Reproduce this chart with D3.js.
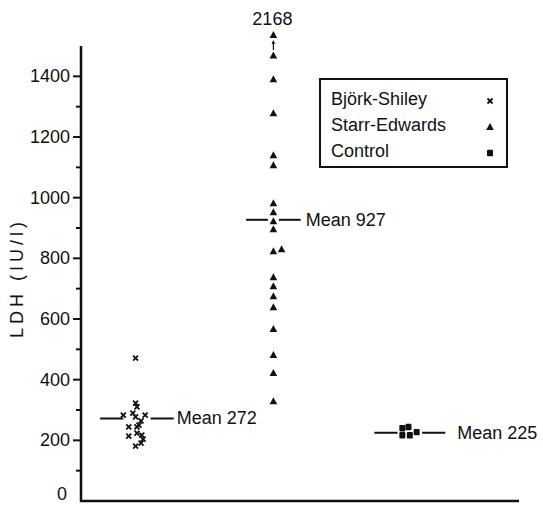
<!DOCTYPE html>
<html>
<head>
<meta charset="utf-8">
<script src="https://cdn.jsdelivr.net/npm/d3@7"></script>
<style>
  body { margin: 0; background: #fff; }
  text { font-family: "Liberation Sans", Arial, sans-serif; fill: #111; }
</style>
</head>
<body>
<div id="chart"></div>
<script>
// groups on the x axis (1, 2, 3)
const categories = ['Björk-Shiley', 'Starr-Edwards', 'Control'];
const symbols = ['cross', 'triangle', 'square'];

// LDH values (IU/l), with horizontal scatter in group units
const bjorkValues = [471, 323, 310, 283, 290, 277, 283, 264, 244, 244, 250, 214, 224, 217, 204, 181, 191];
const bjorkJitter = [-0.01, -0.01, 0, -0.10, -0.03, -0.01, 0.06, 0.03, -0.06, 0, 0.015, -0.06, 0, 0.035, 0.045, -0.01, 0.03];

const starrValues = [2168, 1469, 1390, 1278, 1140, 1107, 982, 952, 922, 896, 823, 830, 738, 708, 675, 639, 567, 481, 422, 329];
const starrJitter = [0, 0, 0, 0, 0, 0, 0, 0, 0, 0, 0, 0.06, 0, 0, 0, 0, 0, 0, 0, 0];

const controlValues = [240, 217, 244, 217, 227];
const controlJitter = [-0.055, -0.055, -0.01, 0, 0.05];

const means = [272, 927, 225];
const yTicks = [0, 200, 400, 600, 800, 1000, 1200, 1400];
const yMinorTicks = [100, 300, 500, 700, 900, 1100, 1300];
const yMax = 1500;

const width = 543, height = 507;

const svg = d3.select('#chart').append('svg')
  .attr('width', width)
  .attr('height', height);

const x = d3.scaleLinear().domain([0.59, 3.8]).range([81, 519]);
const y = d3.scaleLinear().domain([0, yMax]).range([501, 46]);
const unit = x(2) - x(1);

// mean line layout per group: half width, gap round the points, label offset
const meanLayout = [
  { half: 0.27, gap: 0.10, dx: 3 },
  { half: 0.20, gap: 0.04, dx: 5 },
  { half: 0.26, gap: 0.09, dx: 12 }
];

// axes
svg.append('line')
  .attr('x1', x.range()[0]).attr('x2', x.range()[0])
  .attr('y1', y(yMax)).attr('y2', y(0) + 1)
  .attr('stroke', '#111').attr('stroke-width', 2.5);
svg.append('line')
  .attr('x1', x.range()[0] - 1).attr('x2', x.range()[1])
  .attr('y1', y(0)).attr('y2', y(0))
  .attr('stroke', '#111').attr('stroke-width', 2.5);

svg.selectAll('.major')
  .data(yTicks.filter(d => d > 0))
  .enter().append('line')
  .attr('x1', x.range()[0] - 8).attr('x2', x.range()[0])
  .attr('y1', d => y(d)).attr('y2', d => y(d))
  .attr('stroke', '#111').attr('stroke-width', 2);

svg.selectAll('.minor')
  .data(yMinorTicks)
  .enter().append('line')
  .attr('x1', x.range()[0] - 5).attr('x2', x.range()[0])
  .attr('y1', d => y(d)).attr('y2', d => y(d))
  .attr('stroke', '#111').attr('stroke-width', 2);

svg.selectAll('.ytick')
  .data(yTicks)
  .enter().append('text')
  .attr('x', d => d === 0 ? 67 : 70)
  .attr('y', d => d === 0 ? y(d) - 1 : y(d) + 6)
  .attr('text-anchor', 'end')
  .attr('font-size', 18)
  .text(d => d);

svg.append('text')
  .attr('transform', `translate(23,${y(735)}) rotate(-90)`)
  .attr('text-anchor', 'middle')
  .attr('font-size', 18)
  .attr('letter-spacing', 4)
  .text('LDH  (IU/l)');

// markers
function drawSymbol(g, type, cx, cy) {
  if (type === 'cross') {
    const r = 2.5;
    g.append('path')
      .attr('d', `M${cx - r},${cy - r}L${cx + r},${cy + r}M${cx - r},${cy + r}L${cx + r},${cy - r}`)
      .attr('stroke', '#111').attr('stroke-width', 1.8).attr('fill', 'none');
  } else if (type === 'triangle') {
    g.append('path')
      .attr('d', `M${cx},${cy - 4}L${cx + 3.8},${cy + 3}L${cx - 3.8},${cy + 3}Z`)
      .attr('fill', '#111');
  } else {
    g.append('rect')
      .attr('x', cx - 3).attr('y', cy - 3.2)
      .attr('width', 6).attr('height', 6.4)
      .attr('rx', 1)
      .attr('fill', '#111');
  }
}

const groups = [
  { values: bjorkValues, jitter: bjorkJitter },
  { values: starrValues, jitter: starrJitter },
  { values: controlValues, jitter: controlJitter }
];

const plotY = v => v > yMax ? y(yMax) - 11 : y(v);

groups.forEach((grp, i) => {
  const cx = x(i + 1);
  const lay = meanLayout[i];
  const my = y(means[i]);
  const g = svg.append('g');

  // mean line, broken round the points
  g.append('line')
    .attr('x1', cx - lay.half * unit).attr('x2', cx - lay.gap * unit)
    .attr('y1', my).attr('y2', my)
    .attr('stroke', '#111').attr('stroke-width', 2);
  g.append('line')
    .attr('x1', cx + lay.gap * unit).attr('x2', cx + lay.half * unit)
    .attr('y1', my).attr('y2', my)
    .attr('stroke', '#111').attr('stroke-width', 2);
  g.append('text')
    .attr('x', cx + lay.half * unit + lay.dx)
    .attr('y', my + 6)
    .attr('font-size', 18)
    .text('Mean ' + means[i]);

  grp.values.forEach((v, j) => {
    drawSymbol(g, symbols[i], cx + grp.jitter[j] * unit, plotY(v));
    if (v > yMax) {
      // off-scale point: value printed above, arrow pointing up
      g.append('text')
        .attr('x', cx - 1).attr('y', plotY(v) - 10)
        .attr('text-anchor', 'middle')
        .attr('font-size', 18)
        .text(v);
      const ay = plotY(v);
      g.append('line')
        .attr('x1', cx).attr('x2', cx)
        .attr('y1', ay + 15).attr('y2', ay + 6)
        .attr('stroke', '#111').attr('stroke-width', 1.2);
      g.append('path')
        .attr('d', `M${cx},${ay + 5}L${cx + 1.8},${ay + 9}L${cx - 1.8},${ay + 9}Z`)
        .attr('fill', '#111');
    }
  });
});

// legend
const legend = svg.append('g').attr('transform', 'translate(320,79)');
legend.append('rect')
  .attr('width', 187).attr('height', 88)
  .attr('fill', 'none').attr('stroke', '#111').attr('stroke-width', 2);
categories.forEach((c, i) => {
  const by = 26 + i * 26;
  legend.append('text')
    .attr('x', 11).attr('y', by)
    .attr('font-size', 18)
    .text(c);
  drawSymbol(legend, symbols[i], 170, by - 4);
});
</script>
</body>
</html>
